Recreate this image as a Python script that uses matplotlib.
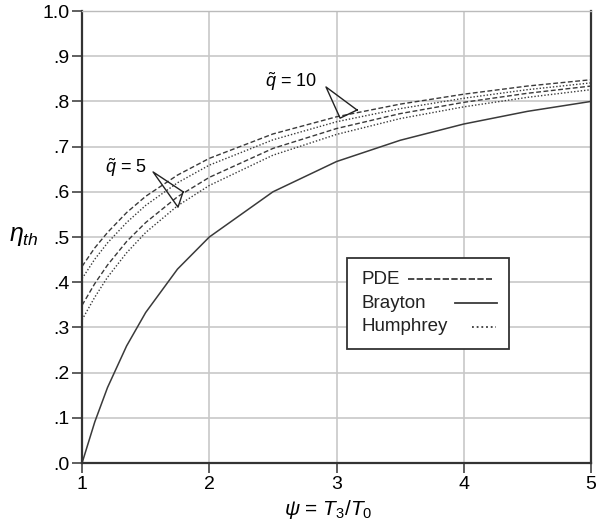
import matplotlib
matplotlib.use("Agg")
import matplotlib.pyplot as plt
from matplotlib.patches import Rectangle

plt.rcParams['font.family'] = ['Liberation Sans', 'DejaVu Sans']
plt.rcParams['mathtext.fontset'] = 'custom'
plt.rcParams['mathtext.rm'] = 'Liberation Sans'
plt.rcParams['mathtext.it'] = 'Liberation Sans:italic'

# temperature ratio psi = T3/T0
psi = [1.0, 1.1, 1.2, 1.35, 1.5, 1.75, 2.0, 2.5, 3.0, 3.5, 4.0, 4.5, 5.0]

# thermal efficiency
brayton = [0.0, 0.091, 0.167, 0.259, 0.333, 0.429, 0.5, 0.6, 0.667, 0.714, 0.75, 0.778, 0.8]
humphrey_q5 = [0.317, 0.367, 0.411, 0.465, 0.510, 0.569, 0.614, 0.681, 0.727, 0.762, 0.788, 0.809, 0.826]
humphrey_q10 = [0.408, 0.451, 0.487, 0.532, 0.570, 0.620, 0.659, 0.715, 0.755, 0.784, 0.807, 0.826, 0.841]
pde_q5 = [0.349, 0.397, 0.438, 0.490, 0.532, 0.589, 0.632, 0.696, 0.740, 0.773, 0.798, 0.818, 0.834]
pde_q10 = [0.435, 0.476, 0.510, 0.554, 0.590, 0.637, 0.674, 0.728, 0.766, 0.794, 0.816, 0.834, 0.848]

xticks = [1, 2, 3, 4, 5]
yticks = [0.0, 0.1, 0.2, 0.3, 0.4, 0.5, 0.6, 0.7, 0.8, 0.9, 1.0]
ytick_labels = ['.0', '.1', '.2', '.3', '.4', '.5', '.6', '.7', '.8', '.9', '1.0']

legend_names = ['PDE', 'Brayton', 'Humphrey']

fig = plt.figure(figsize=(5.99, 5.27), dpi=100)
ax = fig.add_axes([0.137, 0.1214, 0.8497, 0.8577])

line_col = '#3a3a3a'
dash = (0, (3.5, 1.8))
dot = (0, (1, 1.4))
ax.plot(psi, pde_q10, color=line_col, lw=1.0, ls=dash)
ax.plot(psi, pde_q5, color=line_col, lw=1.0, ls=dash)
ax.plot(psi, brayton, color=line_col, lw=1.1, ls='-')
ax.plot(psi, humphrey_q10, color=line_col, lw=1.0, ls=dot)
ax.plot(psi, humphrey_q5, color=line_col, lw=1.0, ls=dot)

# q annotations
ax.text(1.346, 0.653, r'$\tilde{q}$ = 5', fontsize=13, ha='center', va='center')
ax.plot([1.794, 1.558, 1.754, 1.794], [0.600, 0.644, 0.566, 0.600], color='#222222', lw=1.0)
ax.text(2.642, 0.843, r'$\tilde{q}$ = 10', fontsize=13, ha='center', va='center')
ax.plot([3.161, 2.917, 3.028, 3.161], [0.781, 0.832, 0.763, 0.781], color='#222222', lw=1.0)

ax.set_xlim(1, 5)
ax.set_ylim(0, 1)
ax.set_xticks(xticks)
ax.set_yticks(yticks)
ax.set_yticklabels(ytick_labels)
ax.grid(True, color='#c8c8c8', lw=1.2)
ax.set_axisbelow(True)
ax.tick_params(direction='out', length=7, width=1.2, labelsize=14, color='#444444', pad=2)
for side in ['left', 'bottom', 'right']:
    ax.spines[side].set_color('#333333')
    ax.spines[side].set_linewidth(1.6)
ax.spines['top'].set_color('#bbbbbb')
ax.spines['top'].set_linewidth(1.0)

ax.set_ylabel(r'$\eta_{th}$', fontsize=18, rotation=0)
ax.yaxis.set_label_coords(-0.115, 0.475)
ax.set_xlabel(r'$\psi$ = $T_3/T_0$', fontsize=15)
ax.xaxis.set_label_coords(0.483, -0.078)

# legend box: labels on the left, line samples on the right
ax.add_patch(Rectangle((0.521, 0.252), 0.318, 0.2015, transform=ax.transAxes,
                       facecolor='white', edgecolor='#333333', lw=1.3, zorder=5))
row_y = [0.407, 0.354, 0.301]
handle_x = [(0.640, 0.806), (0.733, 0.815), (0.767, 0.814)]
handle_ls = [(0, (3.5, 1.3)), '-', (0, (1, 1.6))]
for name, yy, hx, hls in zip(legend_names, row_y, handle_x, handle_ls):
    ax.text(0.550, yy, name, transform=ax.transAxes, fontsize=13.5,
            ha='left', va='center', zorder=6, color='#222222')
    ax.plot(hx, [yy, yy], transform=ax.transAxes, color=line_col, lw=1.3,
            ls=hls, zorder=6)

plt.savefig('out.png', dpi=100)
plt.close()
